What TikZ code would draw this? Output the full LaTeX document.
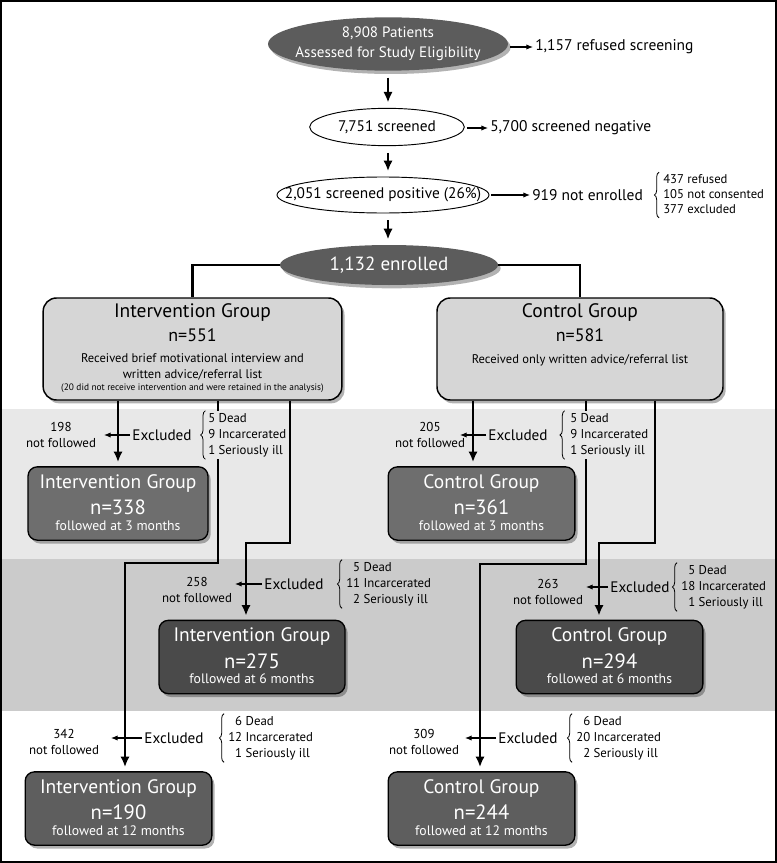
\documentclass[tikz,border=0pt]{standalone}
\usepackage{fontspec}
\setmainfont{PT Sans}
\usetikzlibrary{arrows.meta, shadows, shapes.geometric, decorations.pathreplacing}

\definecolor{bandlight}{HTML}{E8E8E8}
\definecolor{banddark}{HTML}{CBCBCB}
\definecolor{groupfill}{HTML}{D6D6D6}
\definecolor{ovalfill}{HTML}{5C5C5C}
\definecolor{threefill}{HTML}{6E6E6E}
\definecolor{sixfill}{HTML}{4A4A4A}
\definecolor{twelvefill}{HTML}{5E5E5E}

\begin{document}
\begin{tikzpicture}[x=0.75pt, y=-0.75pt,
    softshadow/.style={drop shadow={shadow xshift=2pt, shadow yshift=-2.5pt, fill=black, opacity=0.3}},
    darkoval/.style={ellipse, fill=ovalfill, inner sep=0pt, softshadow},
    whiteoval/.style={ellipse, draw, line width=0.7pt, fill=white, inner sep=0pt},
    ovaltext/.style={inner sep=0pt, align=center, font=\fontsize{11.5}{15}\selectfont},
    groupbox/.style={draw, line width=1.1pt, rounded corners=10pt, fill=groupfill, minimum height=76.5pt, softshadow},
    followbox/.style={draw, line width=1pt, rounded corners=7pt, minimum height=55pt, softshadow},
    grouptitle/.style={inner sep=0pt, font=\fontsize{14.6}{16}\selectfont},
    groupcount/.style={inner sep=0pt, font=\fontsize{13.5}{16}\selectfont},
    groupnote/.style={inner sep=0pt, align=center, font=\fontsize{9.4}{12}\selectfont},
    groupsmall/.style={inner sep=0pt, font=\fontsize{7}{9}\selectfont},
    followcount/.style={inner sep=0pt, text=white, font=\fontsize{15.5}{18}\selectfont},
    follownote/.style={inner sep=0pt, text=white, font=\fontsize{10.3}{12}\selectfont},
    sidetext/.style={inner sep=0pt, font=\fontsize{11.6}{13}\selectfont},
    nftext/.style={inner sep=0pt, align=center, font=\fontsize{9.7}{12}\selectfont},
    extext/.style={inner sep=0pt, font=\fontsize{11.4}{13}\selectfont},
    listtext/.style={inner sep=0pt, anchor=west, font=\fontsize{9.6}{12}\selectfont},
    bracedraw/.style={decorate, decoration={brace, amplitude=3.5pt}, line width=0.6pt},
    mainflow/.style={line width=2pt, -{Latex[length=8pt,width=7pt]}, shorten <=5pt, shorten >=4pt},
    flow/.style={line width=2pt, -{Latex[length=8pt,width=7pt]}, shorten >=3pt},
    link/.style={line width=2pt},
    sidearrow/.style={line width=0.8pt, -{Latex[length=5pt,width=4pt]}, shorten <=1.5pt, shorten >=1.5pt}
  ]
  \useasboundingbox (0,0) rectangle (777,863);

  % Bands
  \fill[bandlight] (2,409) rectangle (775,559);
  \fill[banddark] (2,559) rectangle (775,711);

  % Screening
  \node[darkoval, minimum width=180pt, minimum height=40pt] (assess) at (388,44) {};
  \node[ovaltext, text=white, font=\fontsize{11.3}{15}\selectfont] (assesstext) at (assess) {8,908 Patients\\Assessed for Study Eligibility};
  \node[sidetext, anchor=west] (refused) at (535,47) {1,157 refused screening};

  \node[whiteoval, minimum width=116pt, minimum height=28pt] (screened) at (387,127) {};
  \node[ovaltext] (screenedtext) at (screened) {7,751 screened};
  \node[sidetext, anchor=west] (negative) at (490,128) {5,700 screened negative};

  \node[whiteoval, minimum width=159pt, minimum height=27pt] (positive) at (383,195) {};
  \node[ovaltext] (positivetext) at (positive) {2,051 screened positive (26\%)};
  \node[sidetext, anchor=west] (notenr) at (532,195) {919 not enrolled};
  \node[listtext, font=\fontsize{9.5}{11.25}\selectfont] (notenrlist) at (663,195)
    {\begin{tabular}{@{}l@{}}437 refused\\105 not consented\\377 excluded\end{tabular}};
  \draw[bracedraw] ([xshift=-3pt]notenrlist.south west) -- ([xshift=-3pt]notenrlist.north west);

  \node[darkoval, minimum width=163.5pt, minimum height=30pt] (enrolled) at (389,265) {};
  \node[ovaltext, text=white, font=\fontsize{14.3}{16}\selectfont] (enrolledtext) at (enrolled) {1,132 enrolled};

  \draw[sidearrow] (assess.east |- refused.west) -- (refused.west);
  \draw[sidearrow] (screened.east |- negative.west) -- (negative.west);
  \draw[sidearrow] (positive.east) -- (notenr.west);
  \draw[mainflow] (assess.south) -- (assess.south |- screened.north);
  \draw[mainflow] (assess.south |- screened.south) -- (assess.south |- positive.north);
  \draw[mainflow] (assess.south |- positive.south) -- (assess.south |- enrolled.north);

  % Groups
  \node[groupbox, minimum width=224pt] (intv) at (192.5,349) {};
  \node[grouptitle] (intvtitle) at (192.5,313) {Intervention Group};
  \node[groupcount] (intvcount) at (192.5,335) {n=551};
  \node[groupnote] (intvnote) at (192.5,367) {Received brief motivational interview and\\written advice/referral list};
  \node[groupsmall] (intvsmall) at (192.5,388) {(20 did not receive intervention and were retained in the analysis)};

  \node[groupbox, minimum width=214.5pt] (ctrl) at (580,349) {};
  \node[grouptitle] (ctrltitle) at (580,313) {Control Group};
  \node[groupcount] (ctrlcount) at (580,335) {n=581};
  \node[groupnote] (ctrlnote) at (580,360) {Received only written advice/referral list};

  \draw[link] (enrolled.west) -| (intv.north);
  \draw[link] (enrolled.east) -| (ctrl.north);

  % Follow-up boxes
  \foreach \nm/\cx/\cy/\bw/\grp/\num/\mo/\col in {
      i3/118/503.5/135pt/Intervention Group/338/3/threefill,
      c3/481.5/503.5/140pt/Control Group/361/3/threefill,
      i6/252/657/139.5pt/Intervention Group/275/6/sixfill,
      c6/609.5/657/140pt/Control Group/294/6/sixfill,
      i12/118.5/808.5/140pt/Intervention Group/190/12/twelvefill,
      c12/481.5/808.5/140pt/Control Group/244/12/twelvefill}
  {
    \node[followbox, fill=\col, minimum width=\bw] (\nm) at (\cx,\cy) {};
    \node[grouptitle, text=white] (\nm title) at (\cx,\cy-20) {\grp};
    \node[followcount] (\nm count) at (\cx,\cy+4) {n=\num};
    \node[follownote] (\nm note) at (\cx,\cy+22) {followed at \mo\ months};
  }

  % Flow to follow-ups
  \coordinate (colCthree) at (473,0);
  \coordinate (colA) at (218,0);
  \coordinate (jogA) at (125,563);
  \coordinate (colB) at (290,0);
  \coordinate (jogB) at (246,543);
  \coordinate (colAc) at (586,0);
  \coordinate (jogAc) at (480,564);
  \coordinate (colBc) at (655,0);
  \coordinate (jogBc) at (599,543);

  \draw[flow] (intv.south -| i3.north) -- (i3.north);
  \draw[flow] (intv.south -| colB) |- (jogB) -- (jogB |- i6.north);
  \draw[flow] (intv.south -| colA) |- (jogA) -- (jogA |- i12.north);
  \draw[flow] (ctrl.south -| colCthree) -- (c3.north -| colCthree);
  \draw[flow] (ctrl.south -| colBc) |- (jogBc) -- (jogBc |- c6.north);
  \draw[flow] (ctrl.south -| colAc) |- (jogAc) -- (jogAc |- c12.north);

  % Exclusions, 3 months
  \node[nftext] (nfithree) at (61,435) {198\\not followed};
  \node[listtext, fill=bandlight] (lsithree) at (208,435)
    {\begin{tabular}{@{}r@{~}l@{}}5&Dead\\9&Incarcerated\\1&Seriously ill\end{tabular}};
  \draw[bracedraw] ([xshift=-2pt]lsithree.south west) -- ([xshift=-2pt]lsithree.north west);
  \node[extext] (exithree) at (162,435) {Excluded};
  \coordinate (tipithree) at (102,435);
  \draw[sidearrow] (exithree.west) -- (tipithree);

  \node[nftext] (nfcthree) at (430,435) {205\\not followed};
  \node[listtext, fill=bandlight] (lscthree) at (570,435)
    {\begin{tabular}{@{}r@{~}l@{}}5&Dead\\9&Incarcerated\\1&Seriously ill\end{tabular}};
  \draw[bracedraw] ([xshift=-4pt]lscthree.south west) -- ([xshift=-4pt]lscthree.north west);
  \node[extext] (excthree) at (518,435) {Excluded};
  \coordinate (tipcthree) at (458,435);
  \draw[sidearrow] (excthree.west) -- (tipcthree);

  % Exclusions, 6 months
  \node[nftext] (nfisix) at (197,590) {258\\not followed};
  \node[listtext] (lsisix) at (346,584)
    {\begin{tabular}{@{}r@{~}l@{}}5&Dead\\11&Incarcerated\\2&Seriously ill\end{tabular}};
  \draw[bracedraw] ([xshift=-3pt]lsisix.south west) -- ([xshift=-3pt]lsisix.north west);
  \node[extext] (exisix) at (294,584) {Excluded};
  \coordinate (tipisix) at (233,584);
  \draw[sidearrow] (exisix.west) -- (tipisix);

  \node[nftext] (nfcsix) at (548,592) {263\\not followed};
  \node[listtext] (lscsix) at (681,587)
    {\begin{tabular}{@{}r@{~}l@{}}5&Dead\\18&Incarcerated\\1&Seriously ill\end{tabular}};
  \draw[bracedraw] ([xshift=-3pt]lscsix.south west) -- ([xshift=-3pt]lscsix.north west);
  \node[extext] (excsix) at (640,587) {Excluded};
  \coordinate (tipcsix) at (584,587);
  \draw[sidearrow] (excsix.west) -- (tipcsix);

  % Exclusions, 12 months
  \node[nftext] (nfitwelve) at (64,742) {342\\not followed};
  \node[listtext] (lsitwelve) at (228,738)
    {\begin{tabular}{@{}r@{~}l@{}}6&Dead\\12&Incarcerated\\1&Seriously ill\end{tabular}};
  \draw[bracedraw] ([xshift=-3pt]lsitwelve.south west) -- ([xshift=-3pt]lsitwelve.north west);
  \node[extext] (exitwelve) at (174,738) {Excluded};
  \coordinate (tipitwelve) at (109,738);
  \draw[sidearrow] (exitwelve.west) -- (tipitwelve);

  \node[nftext] (nfctwelve) at (424,742) {309\\not followed};
  \node[listtext] (lsctwelve) at (576,738)
    {\begin{tabular}{@{}r@{~}l@{}}6&Dead\\20&Incarcerated\\2&Seriously ill\end{tabular}};
  \draw[bracedraw] ([xshift=-3pt]lsctwelve.south west) -- ([xshift=-3pt]lsctwelve.north west);
  \node[extext] (exctwelve) at (528,738) {Excluded};
  \coordinate (tipctwelve) at (463,738);
  \draw[sidearrow] (exctwelve.west) -- (tipctwelve);

  % Frame
  \draw[line width=1.5pt] (1,1) rectangle (776,862);
\end{tikzpicture}
\end{document}
